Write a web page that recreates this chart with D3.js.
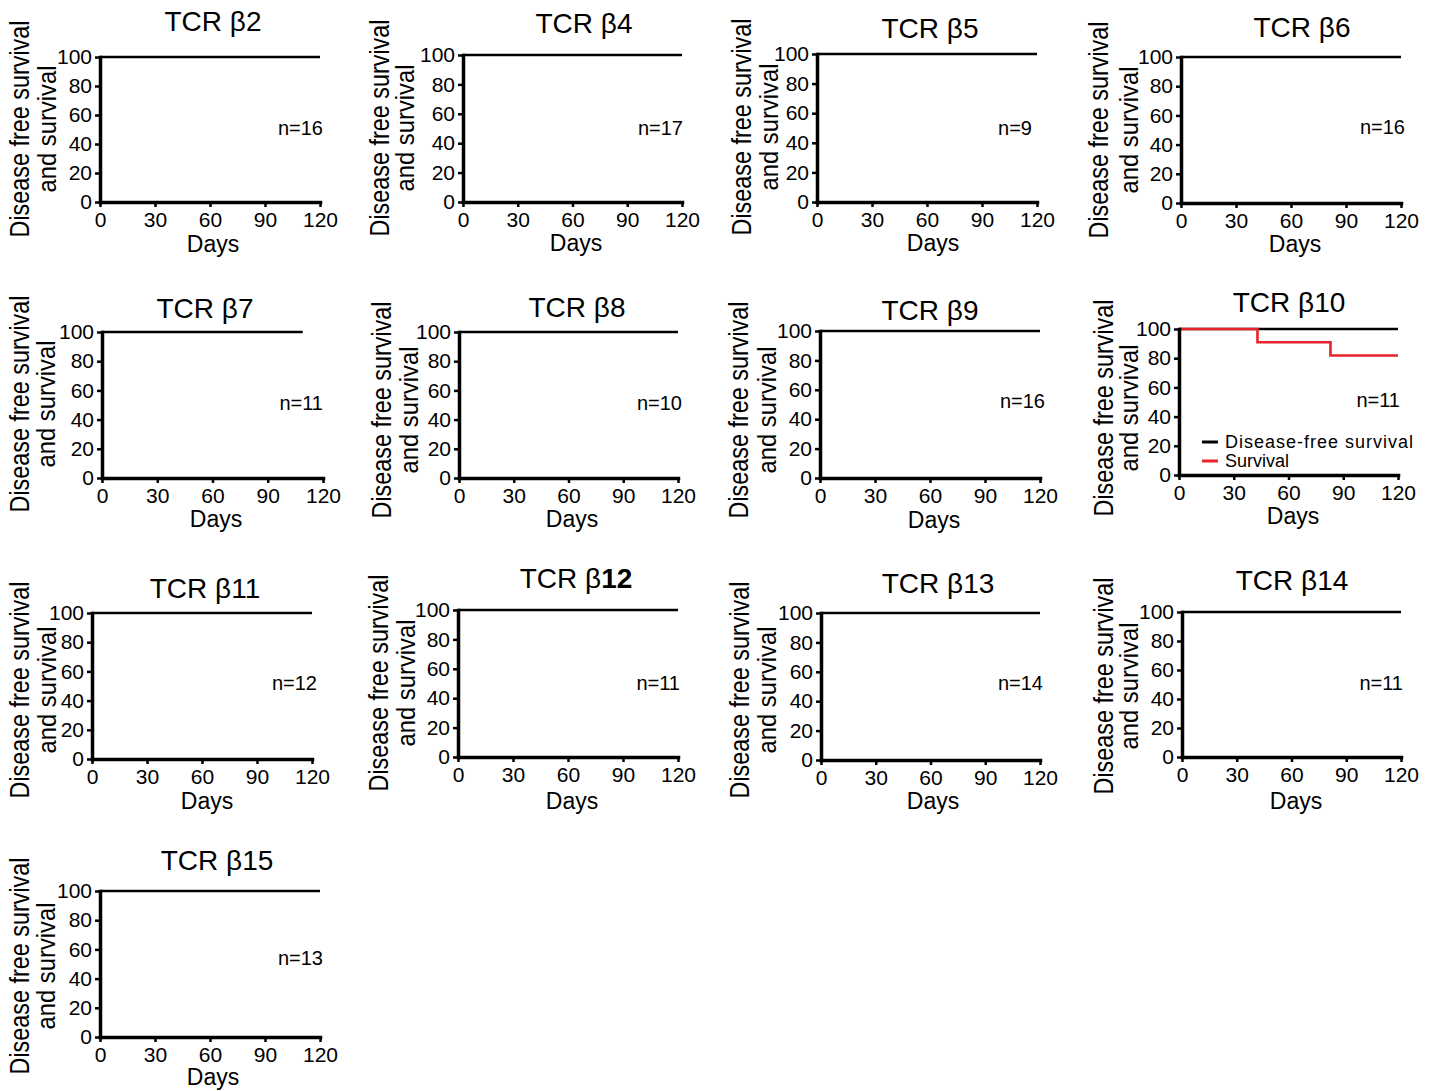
<!DOCTYPE html>
<html>
<head>
<meta charset="utf-8">
<script src="https://cdn.jsdelivr.net/npm/d3@7"></script>
<style>
  html, body { margin: 0; padding: 0; background: #fff; }
  svg text { font-family: "Liberation Sans", Arial, sans-serif; fill: #000; }
</style>
</head>
<body>
<svg id="chart" width="1440" height="1091"></svg>
<script>
// data, one entry per TCR beta panel
const panelBeta = ["2", "4", "5", "6", "7", "8", "9", "10", "11", "12", "13", "14", "15"];
const panelN = [16, 17, 9, 16, 11, 10, 16, 11, 12, 11, 14, 11, 13];
// disease-free survival stays at 100%, followed up until this day
const dfsEndDay = [120, 120, 120, 120, 109, 120, 120, 120, 120, 120, 120, 120, 120];
const dfsPct = [100, 100];
// TCR beta10 overall survival (Kaplan-Meier steps)
const b10SurvDays = [0, 43, 83, 120];
const b10SurvPct = [100, 90.9, 81.8, 81.8];

const xTicks = [0, 30, 60, 90, 120];
const yTicks = [0, 20, 40, 60, 80, 100];

// panel geometry (axis origin, top, bottom, right end, label spots)
const layout = [
  { ox: 100, top: 57, bot: 202, right: 320, tx: 213, ty: 31, y1: 29, y2: 56, yc: 129, nx: 323, ny: 135, dx: 213, dy: 252 },
  { ox: 463, top: 55, bot: 202, right: 682, tx: 584, ty: 33, y1: 389, y2: 414, yc: 128, nx: 683, ny: 135, dx: 576, dy: 251 },
  { ox: 817, top: 54, bot: 202, right: 1037, tx: 930, ty: 38, y1: 751, y2: 778, yc: 127, nx: 1032, ny: 135, dx: 933, dy: 251 },
  { ox: 1181, top: 57, bot: 203, right: 1401, tx: 1302, ty: 37, y1: 1108, y2: 1138, yc: 130, nx: 1405, ny: 134, dx: 1295, dy: 252 },
  { ox: 102, top: 332, bot: 478, right: 323, tx: 205, ty: 318, y1: 29, y2: 55, yc: 404, nx: 323, ny: 410, dx: 216, dy: 527 },
  { ox: 459, top: 332, bot: 478, right: 678, tx: 577, ty: 317, y1: 391, y2: 418, yc: 410, nx: 682, ny: 410, dx: 572, dy: 527 },
  { ox: 820, top: 331, bot: 478, right: 1040, tx: 930, ty: 320, y1: 748, y2: 776, yc: 410, nx: 1045, ny: 408, dx: 934, dy: 528 },
  { ox: 1179, top: 329, bot: 475, right: 1398, tx: 1289, ty: 312, y1: 1113, y2: 1138, yc: 408, nx: 1400, ny: 407, dx: 1293, dy: 524 },
  { ox: 92, top: 613, bot: 759, right: 312, tx: 205, ty: 598, y1: 29, y2: 56, yc: 690, nx: 317, ny: 690, dx: 207, dy: 809 },
  { ox: 458, top: 610, bot: 757, right: 678, tx: 576, ty: 588, y1: 388, y2: 415, yc: 683, nx: 680, ny: 690, dx: 572, dy: 809 },
  { ox: 821, top: 613, bot: 760, right: 1040, tx: 938, ty: 593, y1: 749, y2: 776, yc: 690, nx: 1043, ny: 690, dx: 933, dy: 809 },
  { ox: 1182, top: 612, bot: 757, right: 1401, tx: 1292, ty: 590, y1: 1113, y2: 1138, yc: 686, nx: 1403, ny: 690, dx: 1296, dy: 809 },
  { ox: 100, top: 891, bot: 1037, right: 320, tx: 217, ty: 870, y1: 29, y2: 55, yc: 966, nx: 323, ny: 965, dx: 213, dy: 1085 }
];

const red = "#e8232a";
const svg = d3.select("#chart");

panelBeta.forEach((b, i) => {
  const L = layout[i];
  const x = d3.scaleLinear().domain([0, 120]).range([L.ox, L.right]);
  const y = d3.scaleLinear().domain([0, 100]).range([L.bot, L.top]);
  const g = svg.append("g");

  // title
  const title = g.append("text")
    .attr("x", L.tx).attr("y", L.ty)
    .attr("text-anchor", "middle")
    .attr("font-size", 28);
  title.append("tspan").text("TCR β");
  title.append("tspan").attr("font-weight", b === "12" ? "bold" : null).text(b);

  // y label, two lines (squeezed like the original)
  g.append("text")
    .attr("transform", `translate(${L.y1},${L.yc}) rotate(-90)`)
    .attr("text-anchor", "middle")
    .attr("font-size", 27)
    .attr("textLength", 217).attr("lengthAdjust", "spacingAndGlyphs")
    .text("Disease free survival");
  g.append("text")
    .attr("transform", `translate(${L.y2},${L.yc}) rotate(-90)`)
    .attr("text-anchor", "middle")
    .attr("font-size", 26)
    .attr("textLength", 127).attr("lengthAdjust", "spacingAndGlyphs")
    .text("and survival");

  // x label
  g.append("text")
    .attr("x", L.dx).attr("y", L.dy)
    .attr("text-anchor", "middle")
    .attr("font-size", 23)
    .text("Days");

  // n label
  g.append("text")
    .attr("x", L.nx).attr("y", L.ny)
    .attr("text-anchor", "end")
    .attr("font-size", 20)
    .text("n=" + panelN[i]);

  const line = d3.line().x(d => x(d[0])).y(d => y(d[1])).curve(d3.curveStepAfter);

  // disease-free survival
  g.append("path")
    .attr("d", line([[0, dfsPct[0]], [dfsEndDay[i], dfsPct[1]]]))
    .attr("fill", "none")
    .attr("stroke", "#000")
    .attr("stroke-width", 2.5);

  if (b === "10") {
    g.append("path")
      .attr("d", line(b10SurvDays.map((d, k) => [d, b10SurvPct[k]])))
      .attr("fill", "none")
      .attr("stroke", red)
      .attr("stroke-width", 2.6);

    // legend
    const lg = [["Disease-free survival", "#000", 442, 1], ["Survival", red, 461, 0]];
    lg.forEach(l => {
      g.append("line")
        .attr("x1", L.ox + 23).attr("x2", L.ox + 39)
        .attr("y1", l[2]).attr("y2", l[2])
        .attr("stroke", l[1]).attr("stroke-width", 3);
      g.append("text")
        .attr("x", L.ox + 46).attr("y", l[2] + 6)
        .attr("font-size", 18)
        .attr("letter-spacing", l[3])
        .text(l[0]);
    });
  }

  // axes
  const xa = g.append("g")
    .attr("transform", `translate(0,${L.bot})`)
    .call(d3.axisBottom(x).tickValues(xTicks).tickSize(5).tickSizeOuter(0).tickPadding(5));
  const ya = g.append("g")
    .attr("transform", `translate(${L.ox},0)`)
    .call(d3.axisLeft(y).tickValues(yTicks).tickSize(5).tickSizeOuter(0).tickPadding(3));

  [xa, ya].forEach(a => {
    a.select(".domain").attr("stroke", "#000").attr("stroke-width", 3.5).attr("stroke-linecap", "square");
    a.selectAll(".tick line").attr("stroke", "#000").attr("stroke-width", 2.5);
    a.selectAll(".tick text")
      .attr("font-size", 21)
      .attr("font-family", "'Liberation Sans', Arial, sans-serif")
      .attr("fill", "#000");
  });
});
</script>
</body>
</html>
